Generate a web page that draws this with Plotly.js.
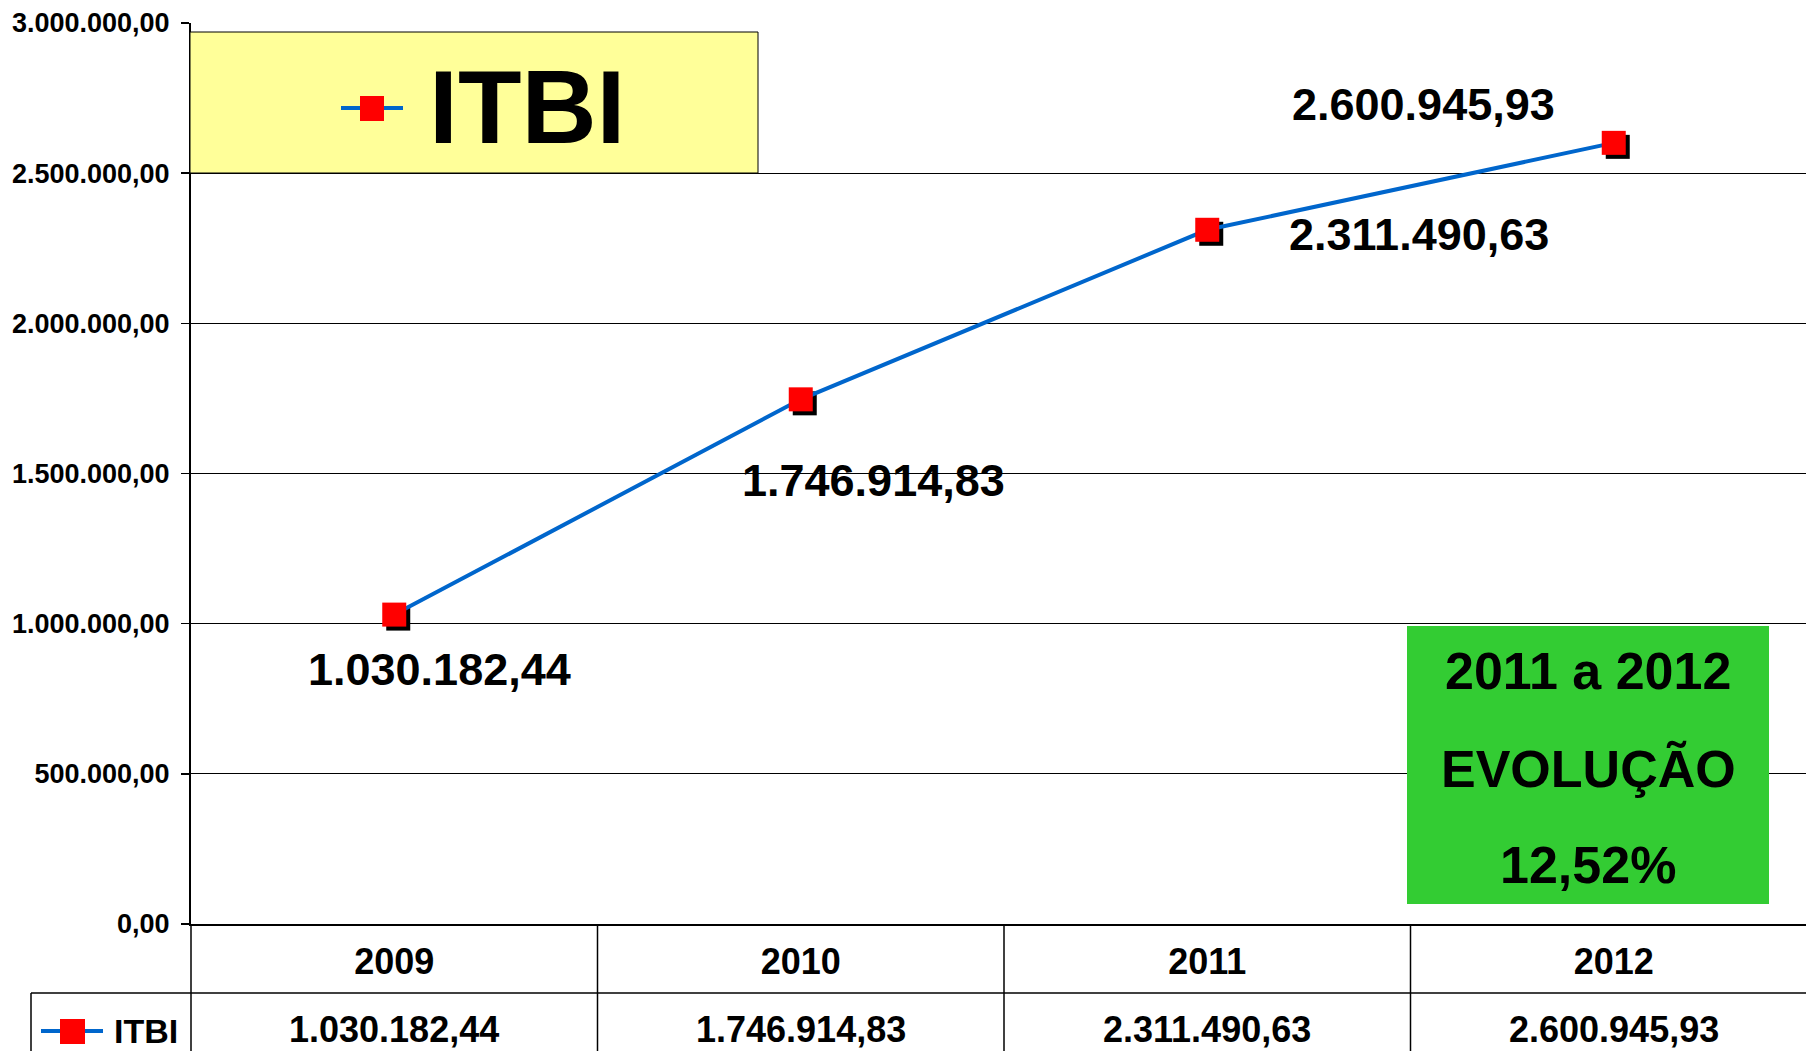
<!DOCTYPE html>
<html><head><meta charset="utf-8">
<script src="https://cdn.plot.ly/plotly-3.0.1.min.js"></script>
<style>html,body{margin:0;padding:0;background:#fff;}#chart{width:1806px;height:1051px;}</style>
</head><body><div id="chart"></div>
<script>
// ---- data ----
const years = ['2009', '2010', '2011', '2012'];
const itbi = [1030182.44, 1746914.83, 2311490.63, 2600945.93];
const seriesName = 'ITBI';
const yTicks = [0, 500000, 1000000, 1500000, 2000000, 2500000, 3000000];
const boxLines = ['2011 a 2012', 'EVOLUÇÃO', '12,52%'];

// ---- helpers / styles ----
function fmt(v) {
  const p = v.toFixed(2).split('.');
  return p[0].replace(/\B(?=(\d{3})+(?!\d))/g, '.') + ',' + p[1];
}
const W = 1806, H = 1051, L = 191, T = 23, B = 127, R = 0;
const plotW = W - L - R, plotH = H - T - B;
const colW = 406.5;
const xr = [-0.5, -0.5 + plotW / colW];
const yr = [0, 3000000];
const ux = (xr[1] - xr[0]) / plotW, uy = (yr[1] - yr[0]) / plotH;
const sh = 4; // shadow offset px
const px = v => (v - L) / plotW;
const py = v => (H - B - v) / plotH;
const FAM = 'Liberation Sans, Arial, sans-serif';
const bold = (size) => ({family: FAM, size: size, color: '#000', weight: 'bold'});
const labelShift = [[45, -55], [73, -81], [212, -5], [-190, 38]];

const traces = [
  {x: years, y: itbi, mode: 'none', showlegend: false, hoverinfo: 'skip'},
  {x: years, y: itbi, xaxis: 'x2', yaxis: 'y2', mode: 'markers', showlegend: false,
   marker: {symbol: 'square', size: 24, color: '#000'}, hoverinfo: 'skip'},
  {x: years, y: itbi, xaxis: 'x3', yaxis: 'y3', mode: 'lines+markers', name: seriesName, showlegend: false,
   line: {color: '#0066CC', width: 4}, marker: {symbol: 'square', size: 24, color: '#FF0000'}}
];

const shapes = [
  // legend box
  {type: 'rect', xref: 'paper', yref: 'paper', x0: px(190), x1: px(758), y0: py(173), y1: py(32),
   fillcolor: '#FFFF99', line: {color: '#000', width: 1}, layer: 'above'},
  {type: 'line', xref: 'paper', yref: 'paper', x0: px(341), x1: px(403), y0: py(108), y1: py(108),
   line: {color: '#0066CC', width: 4}, layer: 'above'},
  {type: 'rect', xref: 'paper', yref: 'paper', x0: px(360), x1: px(384), y0: py(121), y1: py(96),
   fillcolor: '#FF0000', line: {width: 0}, layer: 'above'},
  // green box
  {type: 'rect', xref: 'paper', yref: 'paper', x0: px(1407), x1: px(1769), y0: py(904), y1: py(626),
   fillcolor: '#33CC33', line: {width: 0}, layer: 'above'},
  // y-axis line extension into table
  {type: 'line', xref: 'paper', yref: 'paper', x0: 0, x1: 0, y0: 0, y1: py(H),
   line: {color: '#000', width: 1.5}},
  // row divider
  {type: 'line', xref: 'paper', yref: 'paper', x0: px(31), x1: 1, y0: py(993), y1: py(993),
   line: {color: '#000', width: 1.5}},
  // table left border
  {type: 'line', xref: 'paper', yref: 'paper', x0: px(31), x1: px(31), y0: py(993), y1: py(H),
   line: {color: '#000', width: 1.5}},
  // table legend key
  {type: 'line', xref: 'paper', yref: 'paper', x0: px(41), x1: px(103), y0: py(1031), y1: py(1031),
   line: {color: '#0066CC', width: 4}},
  {type: 'rect', xref: 'paper', yref: 'paper', x0: px(60), x1: px(85), y0: py(1044), y1: py(1019),
   fillcolor: '#FF0000', line: {width: 0}}
];
for (let i = 0; i < years.length - 1; i++) {
  shapes.push({type: 'line', xref: 'x', yref: 'paper', x0: i + 0.5, x1: i + 0.5, y0: 0, y1: py(H),
    line: {color: '#000', width: 1.5}});
}

const annotations = [
  {xref: 'paper', yref: 'paper', x: px(527), y: py(107), text: seriesName, showarrow: false,
   xanchor: 'center', yanchor: 'middle', font: bold(104)},
  {xref: 'paper', yref: 'paper', x: px(112), y: py(1031), text: seriesName, showarrow: false,
   xanchor: 'left', yanchor: 'middle', font: bold(34)}
];
const boxY = [671, 769, 865];
boxLines.forEach((t, i) => annotations.push({xref: 'paper', yref: 'paper', x: px(1588), y: py(boxY[i]),
  text: t, showarrow: false, xanchor: 'center', yanchor: 'middle', font: bold(52)}));
years.forEach((yr_, i) => {
  // category axis: annotation x is the category index
  annotations.push({xref: 'x', yref: 'y', x: i, y: itbi[i], text: fmt(itbi[i]), showarrow: false,
    xanchor: 'center', yanchor: 'middle', xshift: labelShift[i][0], yshift: labelShift[i][1], font: bold(45)});
  annotations.push({xref: 'x', yref: 'paper', x: i, y: py(1029), text: fmt(itbi[i]), showarrow: false,
    xanchor: 'center', yanchor: 'middle', font: bold(36)});
});

const catAxis = {type: 'category', categoryorder: 'array', categoryarray: years};
const layout = {
  width: W, height: H,
  margin: {l: L, r: R, t: T, b: B, pad: 0},
  paper_bgcolor: '#fff', plot_bgcolor: '#fff',
  separators: ',.',
  showlegend: false,
  xaxis: Object.assign({}, catAxis, {range: xr, showgrid: false, zeroline: false, showline: true,
    linecolor: '#000', linewidth: 2, ticks: '', tickfont: bold(36), ticklabelstandoff: 5, fixedrange: true}),
  yaxis: {range: yr, tickvals: yTicks, tickformat: ',.2f', showgrid: true, gridcolor: '#000', gridwidth: 1,
    zeroline: false, showline: true, linecolor: '#000', linewidth: 2, ticks: 'outside', ticklen: 8,
    tickcolor: '#000', tickwidth: 1.5, tickfont: bold(27), ticklabelstandoff: 6},
  xaxis2: Object.assign({}, catAxis, {overlaying: 'x', range: [xr[0] - sh * ux, xr[1] - sh * ux], visible: false}),
  yaxis2: {overlaying: 'y', range: [yr[0] + sh * uy, yr[1] + sh * uy], visible: false},
  xaxis3: Object.assign({}, catAxis, {overlaying: 'x', range: xr, visible: false}),
  yaxis3: {overlaying: 'y', range: yr, visible: false},
  shapes: shapes,
  annotations: annotations
};
Plotly.newPlot('chart', traces, layout, {staticPlot: true, displayModeBar: false});
</script>
</body></html>
